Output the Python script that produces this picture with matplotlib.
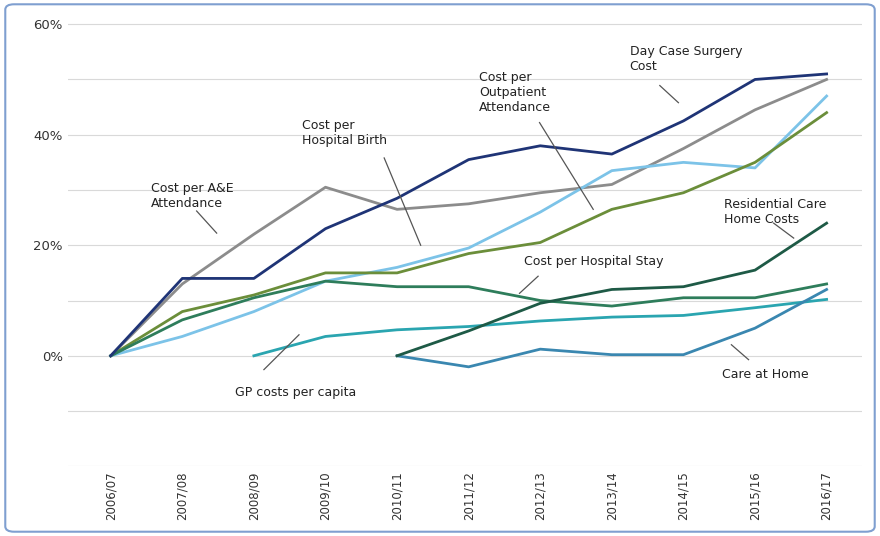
import matplotlib
matplotlib.use("Agg")
import matplotlib.pyplot as plt
from matplotlib.patches import FancyBboxPatch
import numpy as np

years = ["2006/07", "2007/08", "2008/09", "2009/10", "2010/11", "2011/12",
         "2012/13", "2013/14", "2014/15", "2015/16", "2016/17"]

day_case = [0, 14, 14, 23, 28.5, 35.5, 38, 36.5, 42.5, 50, 51]
ae = [0, 13, 22, 30.5, 26.5, 27.5, 29.5, 31, 37.5, 44.5, 50]
birth = [0, 3.5, 8, 13.5, 16, 19.5, 26, 33.5, 35, 34, 47]
outpatient = [0, 8, 11, 15, 15, 18.5, 20.5, 26.5, 29.5, 35, 44]
stay = [0, 6.5, 10.5, 13.5, 12.5, 12.5, 10, 9, 10.5, 10.5, 13]
residential = [None] * 4 + [0, 4.5, 9.5, 12, 12.5, 15.5, 24]
gp = [None] * 2 + [0, 3.5, 4.7, 5.3, 6.3, 7, 7.3, 8.7, 10.2]
care_home = [None] * 4 + [0, -2, 1.2, 0.2, 0.2, 5, 12]

series = [
    (ae, "#8c8c8c"),
    (birth, "#7cc3e8"),
    (outpatient, "#6b8e3a"),
    (stay, "#2e7d5b"),
    (gp, "#2aa5b0"),
    (care_home, "#3a87b0"),
    (residential, "#1e5a46"),
    (day_case, "#1f3476"),
]

fig = plt.figure(figsize=(8.8, 5.36), dpi=100)
ax = fig.add_axes([0.077, 0.13, 0.903, 0.83])
x = np.arange(len(years))
for vals, col in series:
    v = np.array([np.nan if a is None else a for a in vals], dtype=float)
    ax.plot(x, v, color=col, lw=2)

ax.set_xlim(-0.6, 10.5)
ax.set_ylim(-20, 60.5)
ax.set_yticks(np.arange(-20, 61, 10))
ax.set_yticklabels(["" if t % 20 or t < 0 else f"{t}%" for t in range(-20, 61, 10)])
ax.set_xticks(x)
ax.set_xticklabels(years, rotation=90, fontsize=8.5, color="#444444")
ax.tick_params(length=0, labelsize=9.5, colors="#333333")
ax.tick_params(axis="x", labelsize=8.5)
ax.grid(axis="y", color="#d9d9d9", lw=0.8)
for s in ax.spines.values():
    s.set_visible(False)

# (text, line start, line end, text top-left)
notes = [
    ("Day Case Surgery\nCost", (7.67, 48.9), (7.93, 45.8), (7.25, 56.2)),
    ("Cost per\nOutpatient\nAttendance", (5.99, 42.2), (6.74, 26.5), (5.15, 51.6)),
    ("Cost per\nHospital Birth", (3.82, 35.8), (4.33, 20), (2.67, 42.9)),
    ("Cost per A&E\nAttendance", (1.2, 26.2), (1.48, 22.2), (0.56, 31.5)),
    ("Residential Care\nHome Costs", (9.26, 24), (9.54, 21.3), (8.57, 28.5)),
    ("Cost per Hospital Stay", (5.97, 14.4), (5.71, 11.3), (5.77, 18.2)),
    ("GP costs per capita", (2.14, -2.5), (2.63, 3.8), (1.74, -5.5)),
    ("Care at Home", (8.67, 2), (8.91, -0.7), (8.54, -2.2)),
]
for txt, start, end, pos in notes:
    ax.plot([start[0], end[0]], [start[1], end[1]], color="#555555", lw=0.9)
    ax.text(pos[0], pos[1], txt, fontsize=9, color="#222222", va="top", ha="left")

fig.patches.append(FancyBboxPatch((0.006, 0.008), 0.988, 0.984,
                                  boxstyle="round,pad=0,rounding_size=0.01",
                                  transform=fig.transFigure, fill=False,
                                  edgecolor="#7f9fd0", lw=1.5))
fig.savefig("out.png")
